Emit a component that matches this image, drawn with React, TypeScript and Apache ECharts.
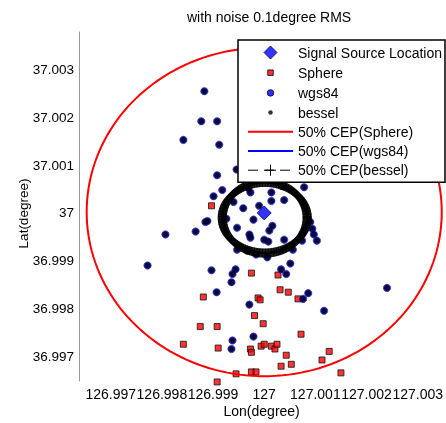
import React, { useEffect, useRef } from "react";
import * as echarts from "echarts";

const titleText = "with noise 0.1degree RMS";
const xTickLabels = ["126.997", "126.998", "126.999", "127", "127.001", "127.002", "127.003"];
const yTickLabels = ["36.997", "36.998", "36.999", "37", "37.001", "37.002", "37.003"];
const xRange = [126.99638, 127.00352];
const yRange = [36.99648, 37.00379];

const signalSource = [[127.0, 37.0]];

const spherePoints = [
  [126.99897, 37.00015], [126.99975, 36.99874], [127.00027, 36.9987], [126.99881, 36.99824],
  [126.99988, 36.99822], [126.99992, 36.99818], [127.00031, 36.99839], [127.00047, 36.99834],
  [127.00066, 36.9982], [126.99981, 36.99785], [126.99998, 36.99768], [126.99875, 36.99762],
  [126.99908, 36.99762], [127.00072, 36.99746], [126.99842, 36.99725], [126.9991, 36.99717],
  [126.99973, 36.99715], [126.99975, 36.99708], [126.99994, 36.99721], [127.0, 36.99725],
  [127.00014, 36.99721], [127.00021, 36.99715], [127.00025, 36.99725], [127.00127, 36.9971],
  [127.00043, 36.99702], [127.00113, 36.99692], [127.00033, 36.99679], [127.00053, 36.99683],
  [126.99945, 36.99663], [126.99975, 36.99667], [126.99984, 36.99667], [127.0015, 36.99665],
  [126.99908, 36.99646],
];

const wgs84Points = [
  [126.99883, 37.00255], [126.99877, 37.00192], [126.99908, 37.00192], [126.99842, 37.00153],
  [126.99912, 37.00143], [126.99946, 37.00091], [126.99971, 37.00093], [126.99986, 37.00068],
  [126.99908, 37.00079], [126.99901, 37.00035], [126.99918, 37.00048], [126.9994, 37.00023],
  [126.99959, 37.0001], [126.99969, 37.00052], [126.99973, 37.00043], [126.9999, 37.00015],
  [127.00014, 37.00043], [127.00014, 37.00025], [127.00039, 37.00027], [127.00035, 37.00056],
  [127.00078, 37.00054], [126.99889, 36.99983], [126.99885, 36.99981], [126.99866, 36.99961],
  [126.99807, 36.99955], [126.99926, 36.99988], [126.99947, 36.99969], [126.99772, 36.9989],
  [126.99979, 36.99986], [126.99971, 36.99955], [126.99973, 36.99948], [127.0, 36.99944],
  [127.00008, 36.9994], [127.00016, 36.99973], [127.0001, 36.99963], [127.00039, 36.99944],
  [127.0009, 36.99981], [127.00094, 36.99967], [127.00097, 36.99955], [127.00103, 36.99942],
  [127.00074, 36.99942], [126.99967, 36.99921], [126.99984, 36.99913], [127.00006, 36.99907],
  [126.99947, 36.99923], [127.00056, 36.99923], [127.00051, 36.99894], [127.00033, 36.99882],
  [127.00043, 36.99872], [126.99944, 36.99882], [126.99897, 36.9988], [126.99938, 36.99872],
  [126.99936, 36.99855], [126.99907, 36.99834], [127.00086, 36.99832], [127.00076, 36.9982],
  [127.0024, 36.99843], [127.00117, 36.99795], [126.99971, 36.99808], [126.99938, 36.99733],
  [126.99979, 36.99741], [126.99936, 36.99715],
];

// bessel estimates coincide with the wgs84 estimates at this scale
const besselPoints = wgs84Points.map((p) => [p[0], p[1]]);

const cepSphereCenter = [127.0, 37.00002];
const cepSphereRadius = [0.00347, 0.00344];
const cepWgs84Center = [127.00001, 36.9999];
const cepWgs84Radius = [0.00083, 0.00074];
const cepBesselCenter = [127.00001, 36.9999];
const cepBesselRadius = [0.00083, 0.00074];

function circle(center: number[], radius: number[], n: number) {
  const pts: number[][] = [];
  for (let i = 0; i <= n; i++) {
    const a = (i / n) * Math.PI * 2;
    pts.push([center[0] + radius[0] * Math.cos(a), center[1] + radius[1] * Math.sin(a)]);
  }
  return pts;
}

const FONT = "'Liberation Sans', Arial, Helvetica, sans-serif";
const PLUS = "path://M0,5H10M5,0V10";

export default function App() {
  const ref = useRef<HTMLDivElement>(null);
  useEffect(() => {
    if (!ref.current) return;
    const chart = echarts.init(ref.current, null, { renderer: "svg" });
    const xTicks = xTickLabels.map(Number);
    const yTicks = yTickLabels.map(Number);
    const fmt = (ticks: number[], labels: string[]) => (v: number) => {
      const i = ticks.findIndex((t) => Math.abs(t - v) < 1e-7);
      return i >= 0 ? labels[i] : "";
    };
    chart.setOption({
      animation: false,
      title: {
        text: titleText,
        left: 187,
        top: 10,
        padding: 0,
        textStyle: { fontSize: 14, fontWeight: "normal", color: "#000", fontFamily: FONT },
      },
      grid: { left: 79, top: 32, width: 367, height: 353, containLabel: false },
      xAxis: {
        type: "value",
        min: xRange[0],
        max: xRange[1],
        name: "Lon(degree)",
        nameLocation: "middle",
        nameGap: 23,
        nameMoveOverlap: false,
        nameTextStyle: { fontSize: 14, color: "#000", fontFamily: FONT },
        axisLine: { show: false },
        axisTick: { show: false },
        splitLine: { show: false },
        axisLabel: {
          customValues: xTicks,
          formatter: fmt(xTicks, xTickLabels),
          fontSize: 14,
          color: "#000",
          fontFamily: FONT,
          margin: 5.5,
        },
      },
      yAxis: {
        type: "value",
        min: yRange[0],
        max: yRange[1],
        name: "Lat(degree)",
        nameLocation: "middle",
        nameGap: 49,
        nameMoveOverlap: false,
        nameTextStyle: { fontSize: 13.5, color: "#000", fontFamily: FONT, padding: [0, 14, 0, 0] },
        axisLine: { show: true, lineStyle: { color: "#999", width: 1 } },
        axisTick: { show: false },
        splitLine: { show: false },
        axisLabel: {
          customValues: yTicks,
          formatter: fmt(yTicks, yTickLabels),
          fontSize: 13.5,
          color: "#000",
          fontFamily: FONT,
          margin: 5,
        },
      },
      legend: {
        orient: "vertical",
        left: 238,
        top: 40,
        padding: [5, 3, 5, 9],
        itemWidth: 45,
        itemHeight: 14,
        itemGap: 5.2,
        selectedMode: false,
        backgroundColor: "#fff",
        borderColor: "#000",
        borderWidth: 1.5,
        borderRadius: 0,
        textStyle: { fontSize: 14, color: "#000", fontFamily: FONT },
        data: [
          {
            name: "Signal Source Location",
            icon: "path://M0,0M14,14M7,0.5L13.5,7L7,13.5L0.5,7Z",
            itemStyle: { borderWidth: 1, borderColor: "#00005a" },
          },
          {
            name: "Sphere",
            icon: "path://M0,0M14,14M4.25,4.25H9.75V9.75H4.25Z",
            itemStyle: { borderWidth: 1, borderColor: "#000" },
          },
          {
            name: "wgs84",
            icon: "path://M0,0M14,14M10.25,7A3.25,3.25,0,1,1,3.75,7A3.25,3.25,0,1,1,10.25,7Z",
            itemStyle: { borderWidth: 1, borderColor: "#000040" },
          },
          {
            name: "bessel",
            icon: "path://M0,0M14,14M9.25,7A2.25,2.25,0,1,1,4.75,7A2.25,2.25,0,1,1,9.25,7Z",
            itemStyle: { borderWidth: 0 },
          },
          { name: "50% CEP(Sphere)", itemStyle: { opacity: 0 }, lineStyle: { width: 2 } },
          { name: "50% CEP(wgs84)", itemStyle: { opacity: 0 }, lineStyle: { width: 2 } },
          {
            name: "50% CEP(bessel)",
            itemStyle: { borderWidth: 1, color: "#000", borderColor: "#000", opacity: 1 },
            lineStyle: { width: 1, type: [10, 6] },
          },
        ],
      },
      series: [
        {
          name: "50% CEP(Sphere)",
          type: "line",
          data: circle(cepSphereCenter, cepSphereRadius, 180),
          symbol: "none",
          silent: true,
          lineStyle: { color: "#ff0000", width: 2 },
          itemStyle: { color: "#ff0000" },
        },
        {
          name: "50% CEP(wgs84)",
          type: "line",
          data: circle(cepWgs84Center, cepWgs84Radius, 120),
          symbol: "none",
          silent: true,
          lineStyle: { color: "#0000ff", width: 2 },
          itemStyle: { color: "#0000ff" },
        },
        {
          name: "50% CEP(bessel)",
          type: "line",
          data: circle(cepBesselCenter, cepBesselRadius, 360),
          symbol: PLUS,
          symbolSize: 9,
          showSymbol: true,
          silent: true,
          lineStyle: { color: "#000", width: 1, type: [10, 6] },
          itemStyle: { color: "#000", borderColor: "#000", borderWidth: 1 },
        },
        {
          name: "Signal Source Location",
          type: "scatter",
          data: signalSource,
          symbol: "diamond",
          symbolSize: 14,
          silent: true,
          itemStyle: { color: "#0000ff", borderColor: "#00005a", borderWidth: 1 },
        },
        {
          name: "Sphere",
          type: "scatter",
          data: spherePoints,
          symbol: "rect",
          symbolSize: 6,
          clip: false,
          silent: true,
          itemStyle: { color: "#ff0000", borderColor: "#111", borderWidth: 1 },
        },
        {
          name: "wgs84",
          type: "scatter",
          data: wgs84Points,
          symbol: "circle",
          symbolSize: 7.5,
          silent: true,
          itemStyle: { color: "#0000e0", borderColor: "#000080", borderWidth: 0.5 },
        },
        {
          name: "bessel",
          type: "scatter",
          data: besselPoints,
          symbol: "circle",
          symbolSize: 6,
          silent: true,
          itemStyle: { color: "#00000c" },
        },
      ],
    });
    return () => chart.dispose();
  }, []);
  return <div ref={ref} style={{ position: "fixed", left: 0, top: 0, width: 446, height: 423 }} />;
}
